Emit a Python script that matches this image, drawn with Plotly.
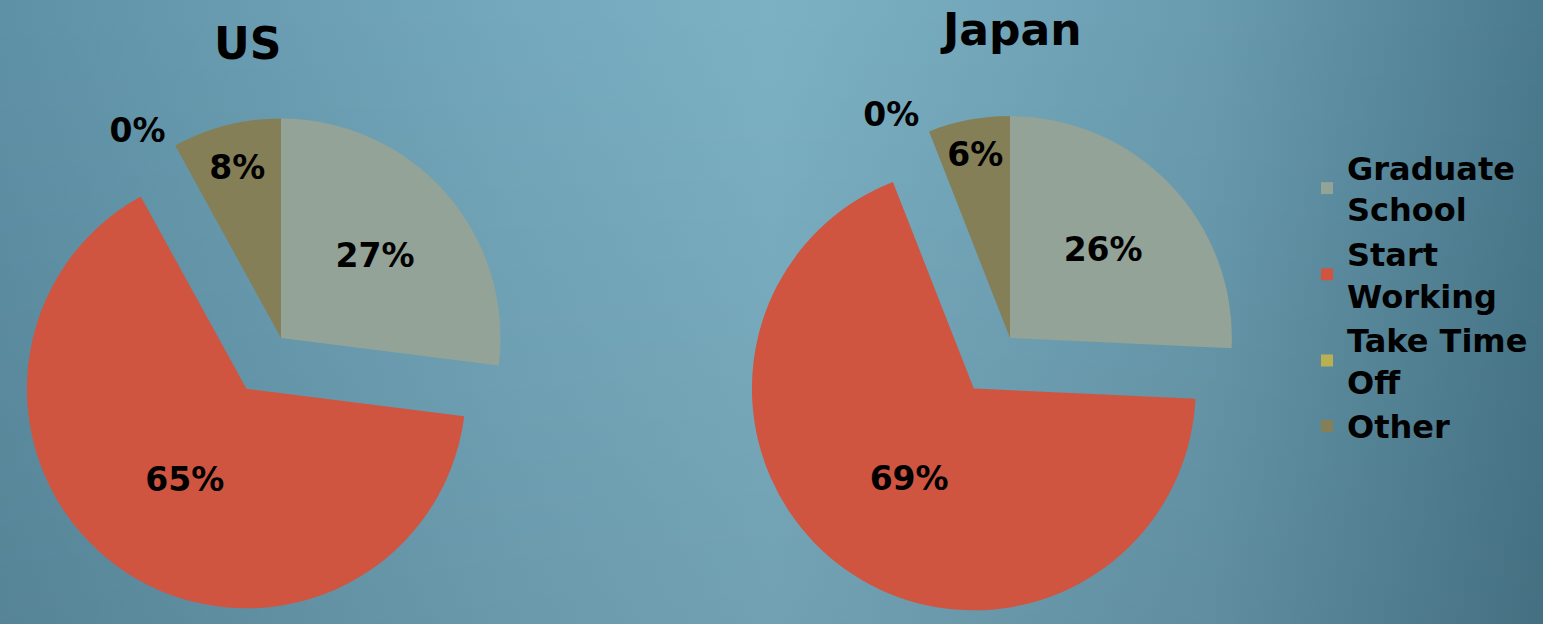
import base64
import plotly.graph_objects as go

# --- data -------------------------------------------------------------
categories = ["Graduate School", "Start Working", "Take Time Off", "Other"]
legend_names = ["Graduate<br>School", "Start<br>Working", "Take Time<br>Off", "Other"]
us_values = [27, 65, 0, 8]
japan_values = [26, 69, 0, 6]
slice_colors = ["#93a398", "#cf5541", "#b8b053", "#857f57"]
exploded = [0, 1, 0, 0]  # Start Working is pulled out of each pie

W, H = 1543, 624
FONT = "DejaVu Sans"
PULL = 0.28


def px_domain(cx, cy, half):
    """Square pie box around a pixel centre, returned in paper units."""
    return dict(
        x=[max(0.0, (cx - half) / W), min(1.0, (cx + half) / W)],
        y=[max(0.0, 1 - (cy + half) / H), min(1.0, 1 - (cy - half) / H)],
    )


def country_pie(values, domain, show_legend):
    return go.Pie(
        labels=legend_names,
        values=values,
        sort=False,
        direction="clockwise",
        rotation=0,
        pull=[PULL * e for e in exploded],
        marker=dict(colors=slice_colors, line=dict(width=0)),
        texttemplate="%{value}%",
        textposition=["inside", "inside", "outside", "inside"],
        insidetextorientation="horizontal",
        insidetextfont=dict(family=FONT, size=33, color="black", weight="bold"),
        outsidetextfont=dict(family=FONT, size=33, color="black", weight="bold"),
        domain=domain,
        showlegend=show_legend,
        automargin=False,
        hoverinfo="label+percent",
    )


fig = go.Figure()
fig.add_trace(country_pie(us_values, px_domain(281, 338, 281), True))
fig.add_trace(country_pie(japan_values, px_domain(1010, 338, 284), False))

# soft blue backdrop: light centre, darker sides, slightly darker at the bottom
svg = f"""<svg xmlns="http://www.w3.org/2000/svg" width="{W}" height="{H}" viewBox="0 0 {W} {H}" preserveAspectRatio="none">
<defs>
<linearGradient id="h" x1="0" y1="0" x2="1" y2="0">
<stop offset="0" stop-color="#5f91a6"/>
<stop offset="0.33" stop-color="#74a8bc"/>
<stop offset="0.5" stop-color="#7cb1c4"/>
<stop offset="0.78" stop-color="#6a9cb0"/>
<stop offset="1" stop-color="#4a7a8e"/>
</linearGradient>
<linearGradient id="v" x1="0" y1="0" x2="0" y2="1">
<stop offset="0" stop-color="#000" stop-opacity="0"/>
<stop offset="1" stop-color="#000" stop-opacity="0.09"/>
</linearGradient>
</defs>
<rect width="{W}" height="{H}" fill="url(#h)"/>
<rect width="{W}" height="{H}" fill="url(#v)"/>
</svg>"""
bg_uri = "data:image/svg+xml;base64," + base64.b64encode(svg.encode()).decode()

fig.update_layout(
    width=W,
    height=H,
    autosize=False,
    margin=dict(l=0, r=0, t=0, b=0, autoexpand=False),
    paper_bgcolor="#6a9cb0",
    plot_bgcolor="rgba(0,0,0,0)",
    font=dict(family=FONT, color="black"),
    images=[dict(source=bg_uri, xref="paper", yref="paper", x=0, y=1,
                 sizex=1, sizey=1, sizing="stretch", layer="below")],
    legend=dict(
        x=1307 / W, y=1 - 140 / H, xanchor="left", yanchor="top",
        xref="container", yref="container",
        maxheight=460,
        font=dict(family=FONT, size=32, color="black", weight="bold"),
        bgcolor="rgba(0,0,0,0)",
        itemclick=False, itemdoubleclick=False,
    ),
    annotations=[
        dict(text="<b>US</b>", x=247 / W, y=1 - 44 / H, xref="paper", yref="paper",
             showarrow=False, xanchor="center", yanchor="middle",
             font=dict(family=FONT, size=44, color="black")),
        dict(text="<b>Japan</b>", x=1011 / W, y=1 - 29 / H, xref="paper", yref="paper",
             showarrow=False, xanchor="center", yanchor="middle",
             font=dict(family=FONT, size=44, color="black")),
    ],
)

fig.write_html("out.html", config={"displayModeBar": False})
